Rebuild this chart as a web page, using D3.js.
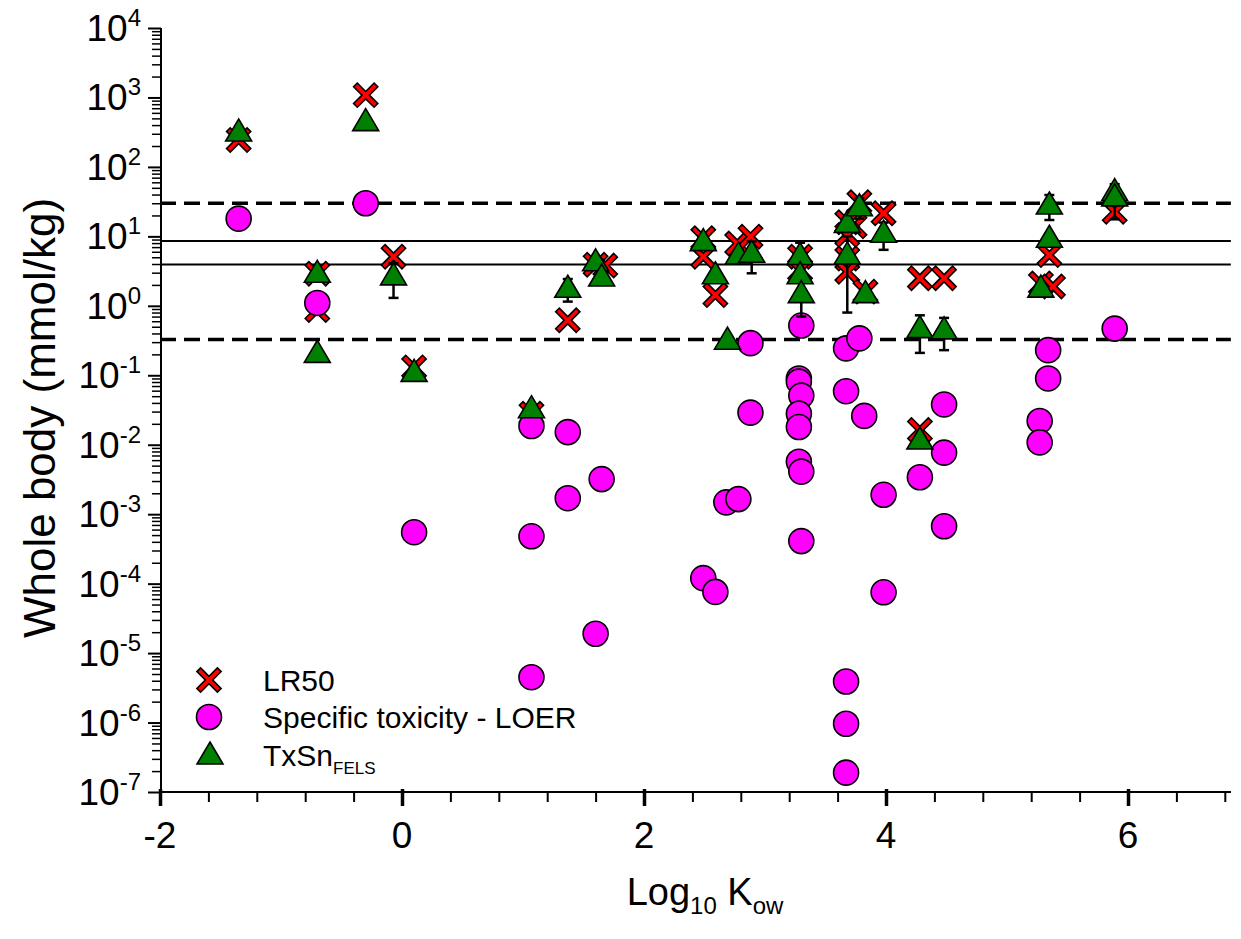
<!DOCTYPE html>
<html>
<head>
<meta charset="utf-8">
<script src="https://cdn.jsdelivr.net/npm/d3@7"></script>
<style>
  body { margin: 0; background: #fff; }
  text { font-family: "Liberation Sans", Arial, sans-serif; fill: #000; }
</style>
</head>
<body>
<div id="chart"></div>
<script>
// LR50 (log Kow, mmol/kg)
const lr50 = [
  [-1.35, 244], [-0.30, 1080], [-0.70, 2.9], [-0.70, 0.87], [-0.07, 5.1], [0.10, 0.13],
  [1.07, 0.028], [1.37, 0.62], [1.60, 3.9], [1.68, 3.8], [2.49, 9.4], [2.49, 5.1],
  [2.59, 1.43], [2.77, 7.9], [2.88, 9.9], [3.29, 5.1], [3.29, 3.3], [3.68, 16],
  [3.74, 14], [3.68, 10.5], [3.68, 4.8], [3.68, 3.1], [3.78, 31], [3.83, 1.6],
  [3.98, 21.5], [4.28, 2.5], [4.48, 2.5], [4.28, 0.0163], [5.35, 5.4], [5.28, 2.1],
  [5.38, 1.9], [5.89, 22.6]
];
// Specific toxicity - LOER
const loer = [
  [-1.35, 18], [-0.30, 30], [-0.70, 1.1], [0.10, 5.5e-4], [1.07, 0.0186], [1.07, 4.8e-4],
  [1.07, 4.5e-6], [1.37, 0.0152], [1.37, 1.7e-3], [1.60, 1.9e-5], [1.65, 3.2e-3],
  [2.49, 1.2e-4], [2.59, 7.6e-5], [2.68, 1.48e-3], [2.78, 1.65e-3], [2.88, 0.29],
  [2.88, 0.029], [3.30, 0.52], [3.28, 0.09], [3.28, 0.081], [3.30, 0.051], [3.28, 0.028],
  [3.28, 0.018], [3.28, 5.7e-3], [3.30, 4.1e-3], [3.30, 4.1e-4], [3.67, 0.244],
  [3.78, 0.34], [3.67, 0.059], [3.82, 0.026], [3.98, 1.9e-3], [3.98, 7.5e-5],
  [3.67, 3.9e-6], [3.67, 9.6e-7], [3.67, 1.9e-7], [4.28, 3.4e-3], [4.48, 0.038],
  [4.48, 7.7e-3], [4.48, 6.7e-4], [5.34, 0.23], [5.34, 0.09], [5.27, 0.022],
  [5.27, 0.0108], [5.89, 0.47]
];
// TxSn FELS (x, y, error)
const txsn = [
  [-1.35, 318, 0], [-0.30, 448, 0], [-0.70, 2.94, 0], [-0.70, 0.207, 0], [-0.07, 2.7, 1.4],
  [0.10, 0.11, 0], [1.07, 0.033, 0], [1.37, 1.79, 0.64], [1.60, 4.3, 0], [1.65, 2.6, 0],
  [2.49, 8.4, 0], [2.59, 2.8, 0], [2.69, 0.32, 0], [2.78, 5.4, 0], [2.89, 5.7, 2.76],
  [3.29, 5.3, 2.8], [3.29, 2.8, 0], [3.30, 1.5, 0.8], [3.68, 15.4, 0], [3.68, 5.4, 4.6],
  [3.78, 26.7, 8.7], [3.83, 1.5, 0], [3.98, 11.1, 4.7], [4.28, 0.47, 0.26], [4.48, 0.45, 0.22],
  [4.28, 0.0117, 0], [5.35, 28.3, 11.1], [5.35, 9.4, 0], [5.28, 1.8, 0], [5.89, 44, 0],
  [5.89, 37, 19.4]
];
// reference lines
const solidLines = [8.6, 3.95];
const dashedLines = [30, 0.327];

const xMajor = [-2, 0, 2, 4, 6];
const xMinor = [-1.6, -1.2, -0.8, -0.4, 0.4, 0.8, 1.2, 1.6, 2.4, 2.8, 3.2, 3.6, 4.4, 4.8, 5.2, 5.6, 6.4, 6.8];
const yExp = [4, 3, 2, 1, 0, -1, -2, -3, -4, -5, -6, -7];
const legendLabels = ["LR50", "Specific toxicity - LOER", "TxSn"];

const width = 1241, height = 939;
const svg = d3.select("#chart").append("svg")
  .attr("width", width).attr("height", height);

const x = d3.scaleLinear().domain([-2, 6.85]).range([160, 160 + 8.85 * 121]);
const y = d3.scaleLog().domain([1e-7, 1e4]).range([792, 28]);

// reference lines
svg.append("g").selectAll("line")
  .data(solidLines).join("line")
  .attr("x1", x(-2)).attr("x2", x(6.85))
  .attr("y1", d => y(d)).attr("y2", d => y(d))
  .attr("stroke", "#000").attr("stroke-width", 2);
svg.append("g").selectAll("line")
  .data(dashedLines).join("line")
  .attr("x1", x(-2)).attr("x2", x(6.85))
  .attr("y1", d => y(d)).attr("y2", d => y(d))
  .attr("stroke", "#000").attr("stroke-width", 3.5)
  .attr("stroke-dasharray", "16,8");

// axes
const yMinor = [];
yExp.slice(1).forEach(e => { for (let k = 2; k <= 9; k++) yMinor.push(k * Math.pow(10, e)); });

const gy = svg.append("g").attr("transform", "translate(161,0)");
gy.call(d3.axisLeft(y).tickValues(yMinor).tickSize(9).tickFormat(""))
  .call(g => g.selectAll(".tick line").attr("stroke-width", 1.5));
gy.append("g").call(d3.axisLeft(y).tickValues(yExp.map(e => Math.pow(10, e))).tickSize(13).tickFormat(""))
  .call(g => g.selectAll(".tick line").attr("stroke-width", 2));
gy.selectAll(".domain").attr("stroke-width", 2).attr("d", `M0,${y(1e4)}V${y(1e-7)}`);

const yl = svg.append("g").selectAll("text")
  .data(yExp).join("text")
  .attr("x", 141).attr("y", d => y(Math.pow(10, d)) + 13)
  .attr("text-anchor", "end")
  .attr("font-size", 37);
yl.append("tspan").text("10");
yl.append("tspan").attr("font-size", 24).attr("dy", -15).text(d => d);

const gx = svg.append("g").attr("transform", "translate(0,792)");
gx.call(d3.axisBottom(x).tickValues(xMinor).tickSize(10).tickFormat(""))
  .call(g => g.selectAll(".tick line").attr("stroke-width", 2));
gx.append("g").call(d3.axisBottom(x).tickValues(xMajor).tickSize(14).tickFormat(""))
  .call(g => g.selectAll(".tick line").attr("stroke-width", 3.5).attr("y1", -3));
gx.selectAll(".domain").attr("stroke-width", 2).attr("d", `M${x(-2)},0H${x(6.85)}`);

svg.append("g").selectAll("text")
  .data(xMajor).join("text")
  .attr("x", d => x(d)).attr("y", 848)
  .attr("text-anchor", "middle").attr("font-size", 37)
  .text(d => d < 0 ? "-" + Math.abs(d) : d);

// axis titles
const xt = svg.append("text").attr("x", 705).attr("y", 905)
  .attr("text-anchor", "middle").attr("font-size", 38);
xt.append("tspan").text("Log");
xt.append("tspan").attr("font-size", 24).attr("dy", 9).text("10");
xt.append("tspan").attr("dy", -9).text(" K");
xt.append("tspan").attr("font-size", 24).attr("dy", 9).text("ow");

svg.append("text")
  .attr("transform", "translate(55,418) rotate(-90)")
  .attr("text-anchor", "middle").attr("font-size", 44)
  .text("Whole body (mmol/kg)");

// marker shapes
const a = 2.6, L = 14.5;
const xShape = "M" + [[-a,-L],[a,-L],[a,-a],[L,-a],[L,a],[a,a],[a,L],[-a,L],[-a,a],[-L,a],[-L,-a],[-a,-a]]
  .map(p => p.join(",")).join("L") + "Z";
const triShape = "M0,-13L13,9L-13,9Z";

function drawX(g, cx, cy) {
  g.append("path").attr("d", xShape)
    .attr("transform", `translate(${cx},${cy}) rotate(45)`)
    .attr("fill", "#ff0000").attr("stroke", "#000").attr("stroke-width", 1.6);
}
function drawCircle(g, cx, cy) {
  g.append("circle").attr("cx", cx).attr("cy", cy).attr("r", 12.5)
    .attr("fill", "#ff00ff").attr("stroke", "#000").attr("stroke-width", 1.6);
}
function drawTri(g, cx, cy) {
  g.append("path").attr("d", triShape)
    .attr("transform", `translate(${cx},${cy})`)
    .attr("fill", "#008000").attr("stroke", "#000").attr("stroke-width", 1.6);
}

const gxm = svg.append("g");
lr50.forEach(d => drawX(gxm, x(d[0]), y(d[1])));
const gc = svg.append("g");
loer.forEach(d => drawCircle(gc, x(d[0]), y(d[1])));

// error bars for TxSn
const ge = svg.append("g").attr("stroke", "#000").attr("stroke-width", 2.5);
txsn.filter(d => d[2] > 0).forEach(d => {
  const cx = x(d[0]), lo = y(d[1] - d[2]), hi = y(d[1] + d[2]);
  ge.append("line").attr("x1", cx).attr("x2", cx).attr("y1", lo).attr("y2", hi);
  ge.append("line").attr("x1", cx - 5).attr("x2", cx + 5).attr("y1", lo).attr("y2", lo);
  ge.append("line").attr("x1", cx - 5).attr("x2", cx + 5).attr("y1", hi).attr("y2", hi);
});
const gt = svg.append("g");
txsn.forEach(d => drawTri(gt, x(d[0]), y(d[1])));

// legend
const lg = svg.append("g");
drawX(lg, 209, 680);
drawCircle(lg, 209, 717);
drawTri(lg, 210, 755);
lg.append("text").attr("x", 263).attr("y", 691).attr("font-size", 30).text(legendLabels[0]);
lg.append("text").attr("x", 263).attr("y", 728).attr("font-size", 30).text(legendLabels[1]);
const t3 = lg.append("text").attr("x", 263).attr("y", 766).attr("font-size", 30);
t3.append("tspan").text(legendLabels[2]);
t3.append("tspan").attr("font-size", 17).attr("dy", 8).text("FELS");
</script>
</body>
</html>
